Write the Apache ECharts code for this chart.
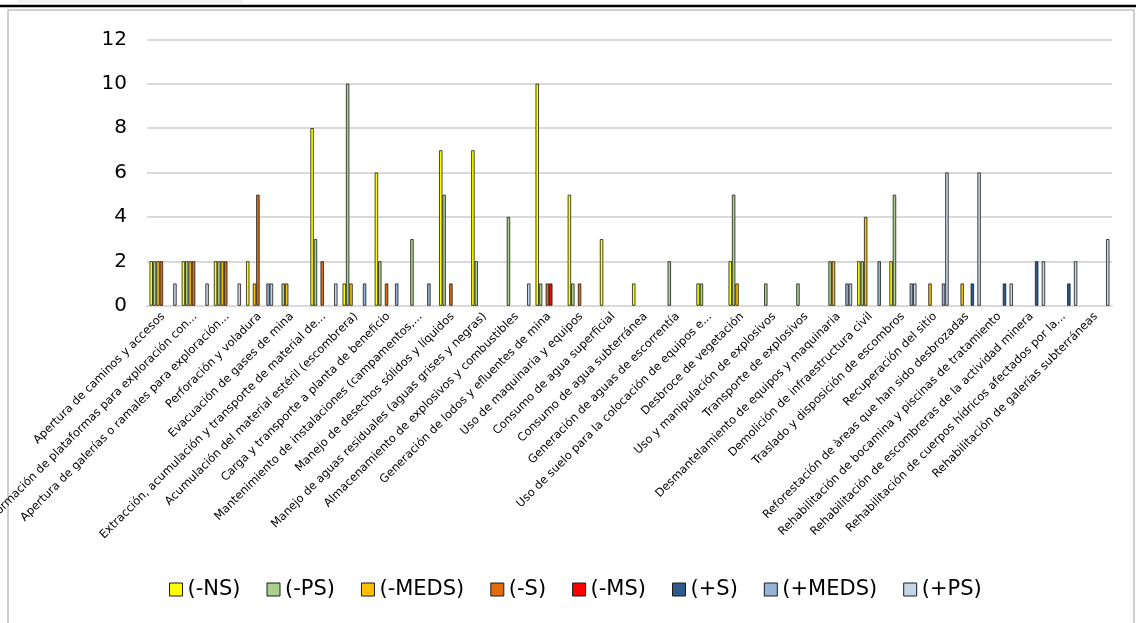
<!DOCTYPE html>
<html>
<head>
<meta charset="utf-8">
<script src="https://cdn.jsdelivr.net/npm/echarts@6/dist/echarts.min.js"></script>
<style>
  html, body { margin: 0; padding: 0; background: #fff; }
  #chart { width: 1136px; height: 623px; }
</style>
</head>
<body>
<div id="chart"></div>
<script>
// categorias (eje x)
var categories = [
  'Apertura de caminos y accesos',
  'Conformación de plataformas para exploración con...',
  'Apertura de galerías o ramales para exploración...',
  'Perforación y voladura',
  'Evacuación de gases de mina',
  'Extracción, acumulación y transporte de material de...',
  'Acumulación del material estéril (escombrera)',
  'Carga y transporte a planta de beneficio',
  'Mantenimiento de instalaciones (campamentos,...',
  'Manejo de desechos sólidos y líquidos',
  'Manejo de aguas residuales (aguas grises y negras)',
  'Almacenamiento de explosivos y combustibles',
  'Generación de lodos y efluentes de mina',
  'Uso de maquinaria y equipos',
  'Consumo de agua superficial',
  'Consumo de agua subterránea',
  'Generación de aguas de escorrentía',
  'Uso de suelo para la colocación de equipos e...',
  'Desbroce de vegetación',
  'Uso y manipulación de explosivos',
  'Transporte de explosivos',
  'Desmantelamiento de equipos y maquinaria',
  'Demolición de infraestructura civil',
  'Traslado y disposición de escombros',
  'Recuperación del sitio',
  'Reforestación de àreas que han sido desbrozadas',
  'Rehabilitación de bocamina y piscinas de tratamiento',
  'Rehabilitación de escombreras de la actividad minera',
  'Rehabilitación de cuerpos hídricos afectados por la...',
  'Rehabilitación de galerías subterráneas'
];

var yTicks = [0, 2, 4, 6, 8, 10, 12];

// valores por serie
var negNS   = [2,2,2,2,0,8,1,6,0,7,7,0,10,5,3,1,0,1,2,0,0,0,2,2,0,0,0,0,0,0];
var negPS   = [2,2,2,0,1,3,10,2,3,5,2,4,1,1,0,0,2,1,5,1,1,2,2,5,0,0,0,0,0,0];
var negMEDS = [2,2,2,1,1,0,1,0,0,0,0,0,0,0,0,0,0,0,1,0,0,2,4,0,1,1,0,0,0,0];
var negS    = [2,2,2,5,0,2,0,1,0,1,0,0,1,1,0,0,0,0,0,0,0,0,0,0,0,0,0,0,0,0];
var negMS   = [0,0,0,0,0,0,0,0,0,0,0,0,1,0,0,0,0,0,0,0,0,0,0,0,0,0,0,0,0,0];
var posS    = [0,0,0,0,0,0,0,0,0,0,0,0,0,0,0,0,0,0,0,0,0,0,0,0,0,1,1,2,1,0];
var posMEDS = [0,0,0,1,0,0,1,1,1,0,0,0,0,0,0,0,0,0,0,0,0,1,2,1,1,0,0,0,0,0];
var posPS   = [1,1,1,1,0,1,0,0,0,0,0,1,0,0,0,0,0,0,0,0,0,1,0,1,6,6,1,2,2,3];

var seriesNames  = ['(-NS)', '(-PS)', '(-MEDS)', '(-S)', '(-MS)', '(+S)', '(+MEDS)', '(+PS)'];
var seriesData   = [negNS, negPS, negMEDS, negS, negMS, posS, posMEDS, posPS];
var seriesColors = ['#FFFF00', '#A9D18E', '#FFC000', '#E46C0A', '#FF0000', '#2F5A8E', '#95B3D7', '#C5D5E8'];

var fontFam = "'DejaVu Sans'";

var series = seriesNames.map(function(name, k){
  return {
    name: name,
    type: 'bar',
    barGap: '0%',
    barCategoryGap: '15.8%',
    itemStyle: {
      color: seriesColors[k],
      borderColor: '#1a1a1a',
      borderWidth: 0.8
    },
    // los ceros no se dibujan
    data: seriesData[k].map(function(v){ return v === 0 ? null : v; })
  };
});

var chart = echarts.init(document.getElementById('chart'));
chart.setOption({
  animation: false,
  backgroundColor: '#fff',
  grid: {
    left: 147,
    top: 39.3,
    width: 965,
    height: 266.4,
    containLabel: false,
    outerBoundsMode: 'none'
  },
  graphic: [
    { type: 'rect', shape: { x: 18, y: 0, width: 225, height: 3 }, style: { fill: '#F2F2F2' } },
    { type: 'rect', shape: { x: 8, y: 10, width: 1126, height: 630 }, style: { fill: 'none', stroke: '#BFBFBF', lineWidth: 1.5 } },
    { type: 'line', shape: { x1: 0, y1: 6, x2: 1136, y2: 6 }, style: { stroke: '#000', lineWidth: 2.5 } }
  ],
  legend: {
    left: 164,
    top: 574,
    itemWidth: 13,
    itemHeight: 13,
    itemGap: 26,
    icon: 'rect',
    itemStyle: { borderColor: '#1a1a1a', borderWidth: 1 },
    textStyle: { fontFamily: fontFam, fontSize: 21, color: '#000' },
    data: seriesNames
  },
  xAxis: {
    type: 'category',
    data: categories,
    axisLine: { show: true, lineStyle: { color: '#D9D9D9', width: 2 } },
    axisTick: { show: false },
    axisLabel: {
      interval: 0,
      rotate: 45,
      margin: 9,
      fontFamily: fontFam,
      fontSize: 11.5,
      color: '#000'
    }
  },
  yAxis: {
    type: 'value',
    min: yTicks[0],
    max: yTicks[yTicks.length - 1],
    interval: 2,
    axisLine: { show: false },
    axisTick: { show: false },
    axisLabel: {
      margin: 20,
      fontFamily: fontFam,
      fontSize: 20,
      color: '#000'
    },
    splitLine: { lineStyle: { color: '#D9D9D9', width: 2 } }
  },
  series: series
});
</script>
</body>
</html>
